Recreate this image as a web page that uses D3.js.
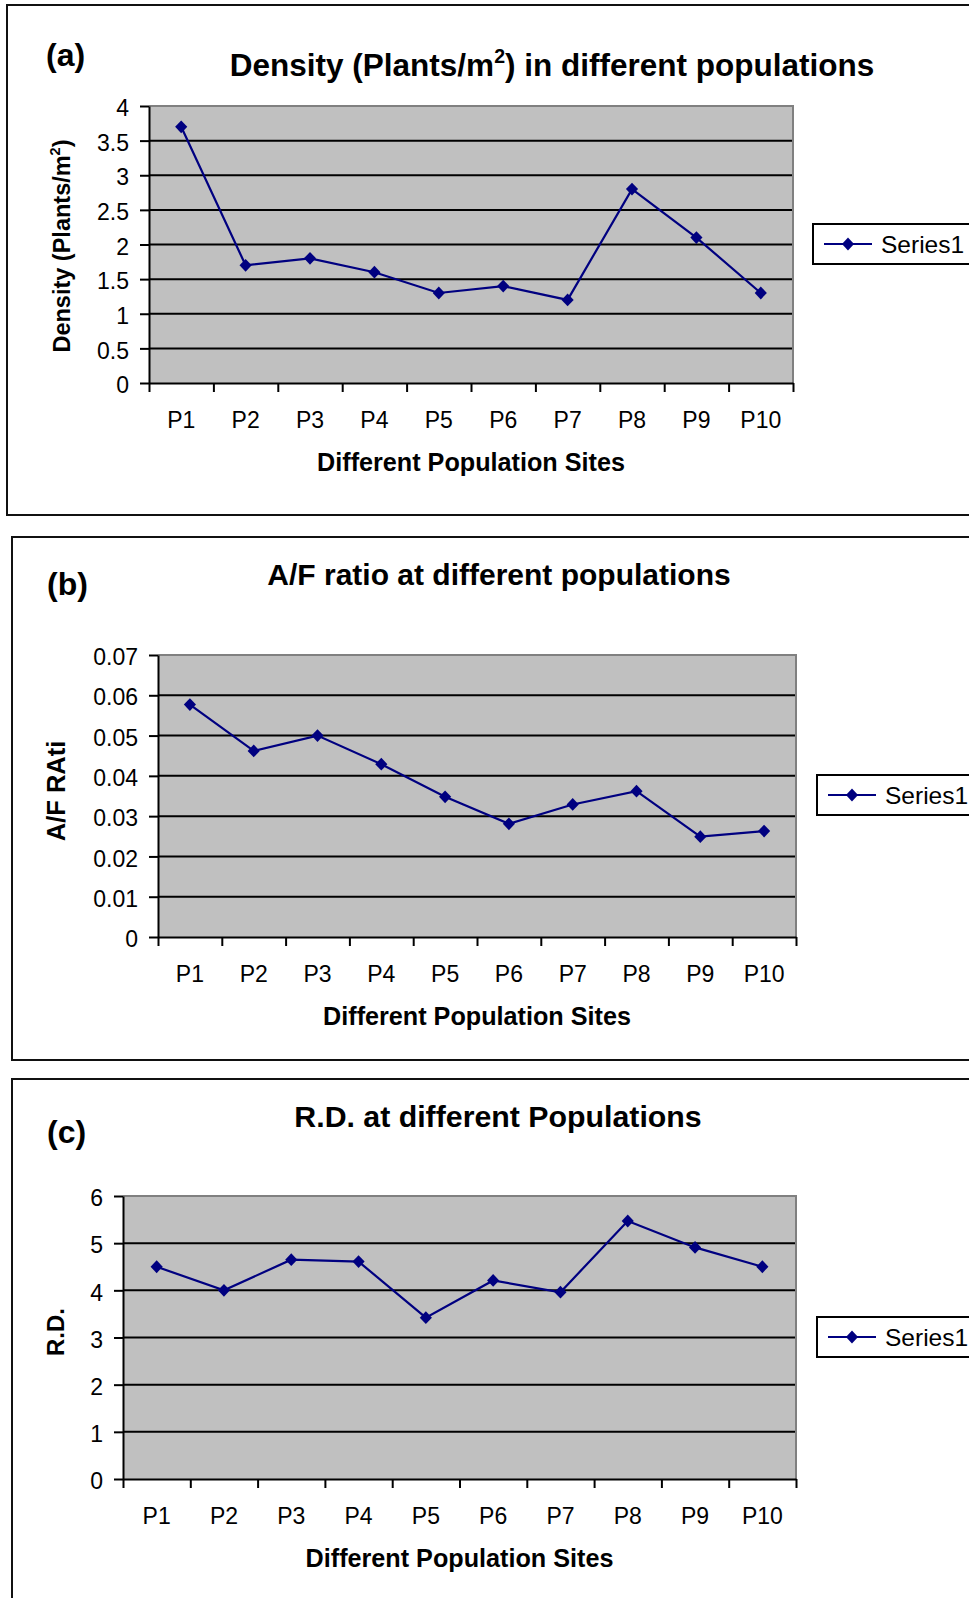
<!DOCTYPE html>
<html>
<head>
<meta charset="utf-8">
<script src="https://cdn.jsdelivr.net/npm/d3@7"></script>
<style>
  html, body { margin: 0; padding: 0; background: #fff; }
  svg { display: block; font-family: "Liberation Sans", Arial, sans-serif; }
</style>
</head>
<body>
<svg id="chart" width="969" height="1598"></svg>
<script>
// ---------- DATA ----------
const categories = ["P1", "P2", "P3", "P4", "P5", "P6", "P7", "P8", "P9", "P10"];

const densityValues = [3.7, 1.7, 1.8, 1.6, 1.3, 1.4, 1.2, 2.8, 2.1, 1.3];
const afRatioValues = [0.0577, 0.0462, 0.0500, 0.0429, 0.0348, 0.0281, 0.0329, 0.0362, 0.0249, 0.0263];
const rdValues = [4.5, 4.0, 4.65, 4.61, 3.42, 4.21, 3.96, 5.47, 4.91, 4.5];

const densityTicks = [0, 0.5, 1, 1.5, 2, 2.5, 3, 3.5, 4];
const densityTickLabels = ["0", "0.5", "1", "1.5", "2", "2.5", "3", "3.5", "4"];
const afTicks = [0, 0.01, 0.02, 0.03, 0.04, 0.05, 0.06, 0.07];
const afTickLabels = ["0", "0.01", "0.02", "0.03", "0.04", "0.05", "0.06", "0.07"];
const rdTicks = [0, 1, 2, 3, 4, 5, 6];
const rdTickLabels = ["0", "1", "2", "3", "4", "5", "6"];

const seriesName = "Series1";
const xAxisTitle = "Different Population Sites";

// ---------- LAYOUT ----------
const panels = [
  {
    letter: "(a)",
    title: [{t: "Density (Plants/m"}, {t: "2", sup: true}, {t: ") in different populations"}],
    titleSize: 31.5,
    ylabel: [{t: "Density (Plants/m"}, {t: "2", sup: true}, {t: ")"}],
    ylabelSize: 23.5,
    values: densityValues, ticks: densityTicks, tickLabels: densityTickLabels,
    box: {x: 7, y: 5, h: 510},
    plot: {l: 149, r: 793, t: 106, b: 383},
    titlePos: {x: 552, y: 76},
    letterPos: {x: 46, y: 66},
    ylabelPos: {x: 62, y: 246},
    legendPos: {x: 813, y: 224, h: 40}
  },
  {
    letter: "(b)",
    title: [{t: "A/F ratio at different populations"}],
    titleSize: 30,
    ylabel: [{t: "A/F RAti"}],
    ylabelSize: 25.5,
    values: afRatioValues, ticks: afTicks, tickLabels: afTickLabels,
    box: {x: 12, y: 537, h: 523},
    plot: {l: 158, r: 796, t: 655, b: 937},
    titlePos: {x: 499, y: 585},
    letterPos: {x: 47, y: 595},
    ylabelPos: {x: 57, y: 791},
    legendPos: {x: 817, y: 775, h: 40}
  },
  {
    letter: "(c)",
    title: [{t: "R.D. at different Populations"}],
    titleSize: 30.3,
    ylabel: [{t: "R.D."}],
    ylabelSize: 24,
    values: rdValues, ticks: rdTicks, tickLabels: rdTickLabels,
    box: {x: 12, y: 1079, h: 600},
    plot: {l: 123, r: 796, t: 1196, b: 1479},
    titlePos: {x: 498, y: 1127},
    letterPos: {x: 47, y: 1143},
    ylabelPos: {x: 56, y: 1332},
    legendPos: {x: 817, y: 1317, h: 40}
  }
];

const svg = d3.select("#chart");
const NAVY = "#000080";
const TICK_FONT = 23;

function addRich(sel, parts, size) {
  let afterSup = false;
  parts.forEach(p => {
    const ts = sel.append("tspan").text(p.t);
    if (p.sup) {
      ts.attr("font-size", size * 0.62).attr("dy", -size * 0.42);
      afterSup = true;
    } else if (afterSup) {
      ts.attr("dy", size * 0.42);
      afterSup = false;
    }
  });
}

function diamond(g, cx, cy, r) {
  g.append("path")
    .attr("d", `M${cx},${cy - r}L${cx + r * 0.95},${cy}L${cx},${cy + r}L${cx - r * 0.95},${cy}Z`)
    .attr("fill", NAVY);
}

panels.forEach(p => {
  const g = svg.append("g");

  // panel frame
  g.append("rect")
    .attr("x", p.box.x).attr("y", p.box.y)
    .attr("width", 1100).attr("height", p.box.h)
    .attr("fill", "none").attr("stroke", "#111").attr("stroke-width", 2);

  const x = d3.scaleBand().domain(categories).range([p.plot.l, p.plot.r]).paddingInner(0).paddingOuter(0);
  const xEdges = d3.scaleLinear().domain([0, categories.length]).range([p.plot.l, p.plot.r]);
  const y = d3.scaleLinear().domain([p.ticks[0], p.ticks[p.ticks.length - 1]]).range([p.plot.b, p.plot.t]);

  // plot background
  g.append("rect")
    .attr("x", p.plot.l).attr("y", p.plot.t)
    .attr("width", p.plot.r - p.plot.l).attr("height", p.plot.b - p.plot.t)
    .attr("fill", "#c0c0c0");

  // gridlines
  g.append("g").selectAll("line")
    .data(p.ticks.slice(1, -1))
    .join("line")
    .attr("x1", p.plot.l).attr("x2", p.plot.r)
    .attr("y1", d => y(d)).attr("y2", d => y(d))
    .attr("stroke", "#000").attr("stroke-width", 2);

  // plot border (top/right grey)
  g.append("path")
    .attr("d", `M${p.plot.l},${p.plot.t}H${p.plot.r}V${p.plot.b}`)
    .attr("fill", "none").attr("stroke", "#808080").attr("stroke-width", 2);

  // Y axis
  const yAxis = d3.axisLeft(y)
    .tickValues(p.ticks)
    .tickFormat((d, i) => p.tickLabels[i])
    .tickSizeInner(9).tickSizeOuter(0).tickPadding(11);
  const ya = g.append("g").attr("transform", `translate(${p.plot.l},0)`).call(yAxis);
  ya.select(".domain").attr("stroke", "#000").attr("stroke-width", 2);
  ya.selectAll(".tick line").attr("stroke", "#000").attr("stroke-width", 2);
  ya.selectAll(".tick text")
    .attr("font-size", TICK_FONT).attr("font-family", "Liberation Sans, Arial, sans-serif")
    .attr("fill", "#000").attr("dy", "0.42em");

  // X axis: boundary ticks
  const xTickAxis = d3.axisBottom(xEdges)
    .tickValues(d3.range(categories.length + 1))
    .tickFormat("")
    .tickSizeInner(9).tickSizeOuter(0);
  const xa = g.append("g").attr("transform", `translate(0,${p.plot.b})`).call(xTickAxis);
  xa.select(".domain").attr("stroke", "#000").attr("stroke-width", 2);
  xa.selectAll(".tick line").attr("stroke", "#000").attr("stroke-width", 2);

  // X axis: category labels
  const xLabelAxis = d3.axisBottom(x).tickSize(0).tickPadding(0);
  const xl = g.append("g").attr("transform", `translate(0,${p.plot.b})`).call(xLabelAxis);
  xl.select(".domain").remove();
  xl.selectAll(".tick text")
    .attr("font-size", TICK_FONT).attr("font-family", "Liberation Sans, Arial, sans-serif")
    .attr("fill", "#000").attr("y", 45).attr("dy", 0);

  // series line
  const line = d3.line()
    .x((d, i) => x(categories[i]) + x.bandwidth() / 2)
    .y(d => y(d));
  g.append("path")
    .datum(p.values)
    .attr("d", line)
    .attr("fill", "none").attr("stroke", NAVY).attr("stroke-width", 2.2);

  // markers
  const mk = g.append("g");
  p.values.forEach((v, i) => diamond(mk, x(categories[i]) + x.bandwidth() / 2, y(v), 6.4));

  // titles
  const t = g.append("text")
    .attr("x", p.titlePos.x).attr("y", p.titlePos.y)
    .attr("text-anchor", "middle").attr("font-weight", "bold").attr("font-size", p.titleSize);
  addRich(t, p.title, p.titleSize);

  g.append("text")
    .attr("x", p.letterPos.x).attr("y", p.letterPos.y)
    .attr("font-weight", "bold").attr("font-size", 32)
    .text(p.letter);

  const yl = g.append("text")
    .attr("transform", `translate(${p.ylabelPos.x + 8},${p.ylabelPos.y}) rotate(-90)`)
    .attr("text-anchor", "middle").attr("font-weight", "bold").attr("font-size", p.ylabelSize);
  addRich(yl, p.ylabel, p.ylabelSize);

  g.append("text")
    .attr("x", (p.plot.l + p.plot.r) / 2).attr("y", p.plot.b + 88)
    .attr("text-anchor", "middle").attr("font-weight", "bold").attr("font-size", 25.2)
    .text(xAxisTitle);

  // legend
  const L = p.legendPos;
  g.append("rect")
    .attr("x", L.x).attr("y", L.y).attr("width", 200).attr("height", L.h)
    .attr("fill", "#fff").attr("stroke", "#000").attr("stroke-width", 2);
  const ly = L.y + L.h / 2;
  g.append("line")
    .attr("x1", L.x + 11).attr("x2", L.x + 59).attr("y1", ly).attr("y2", ly)
    .attr("stroke", NAVY).attr("stroke-width", 2);
  diamond(g, L.x + 35, ly, 6.4);
  g.append("text")
    .attr("x", L.x + 68).attr("y", ly + 8.5)
    .attr("font-size", 24.5)
    .text(seriesName);
});
</script>
</body>
</html>
